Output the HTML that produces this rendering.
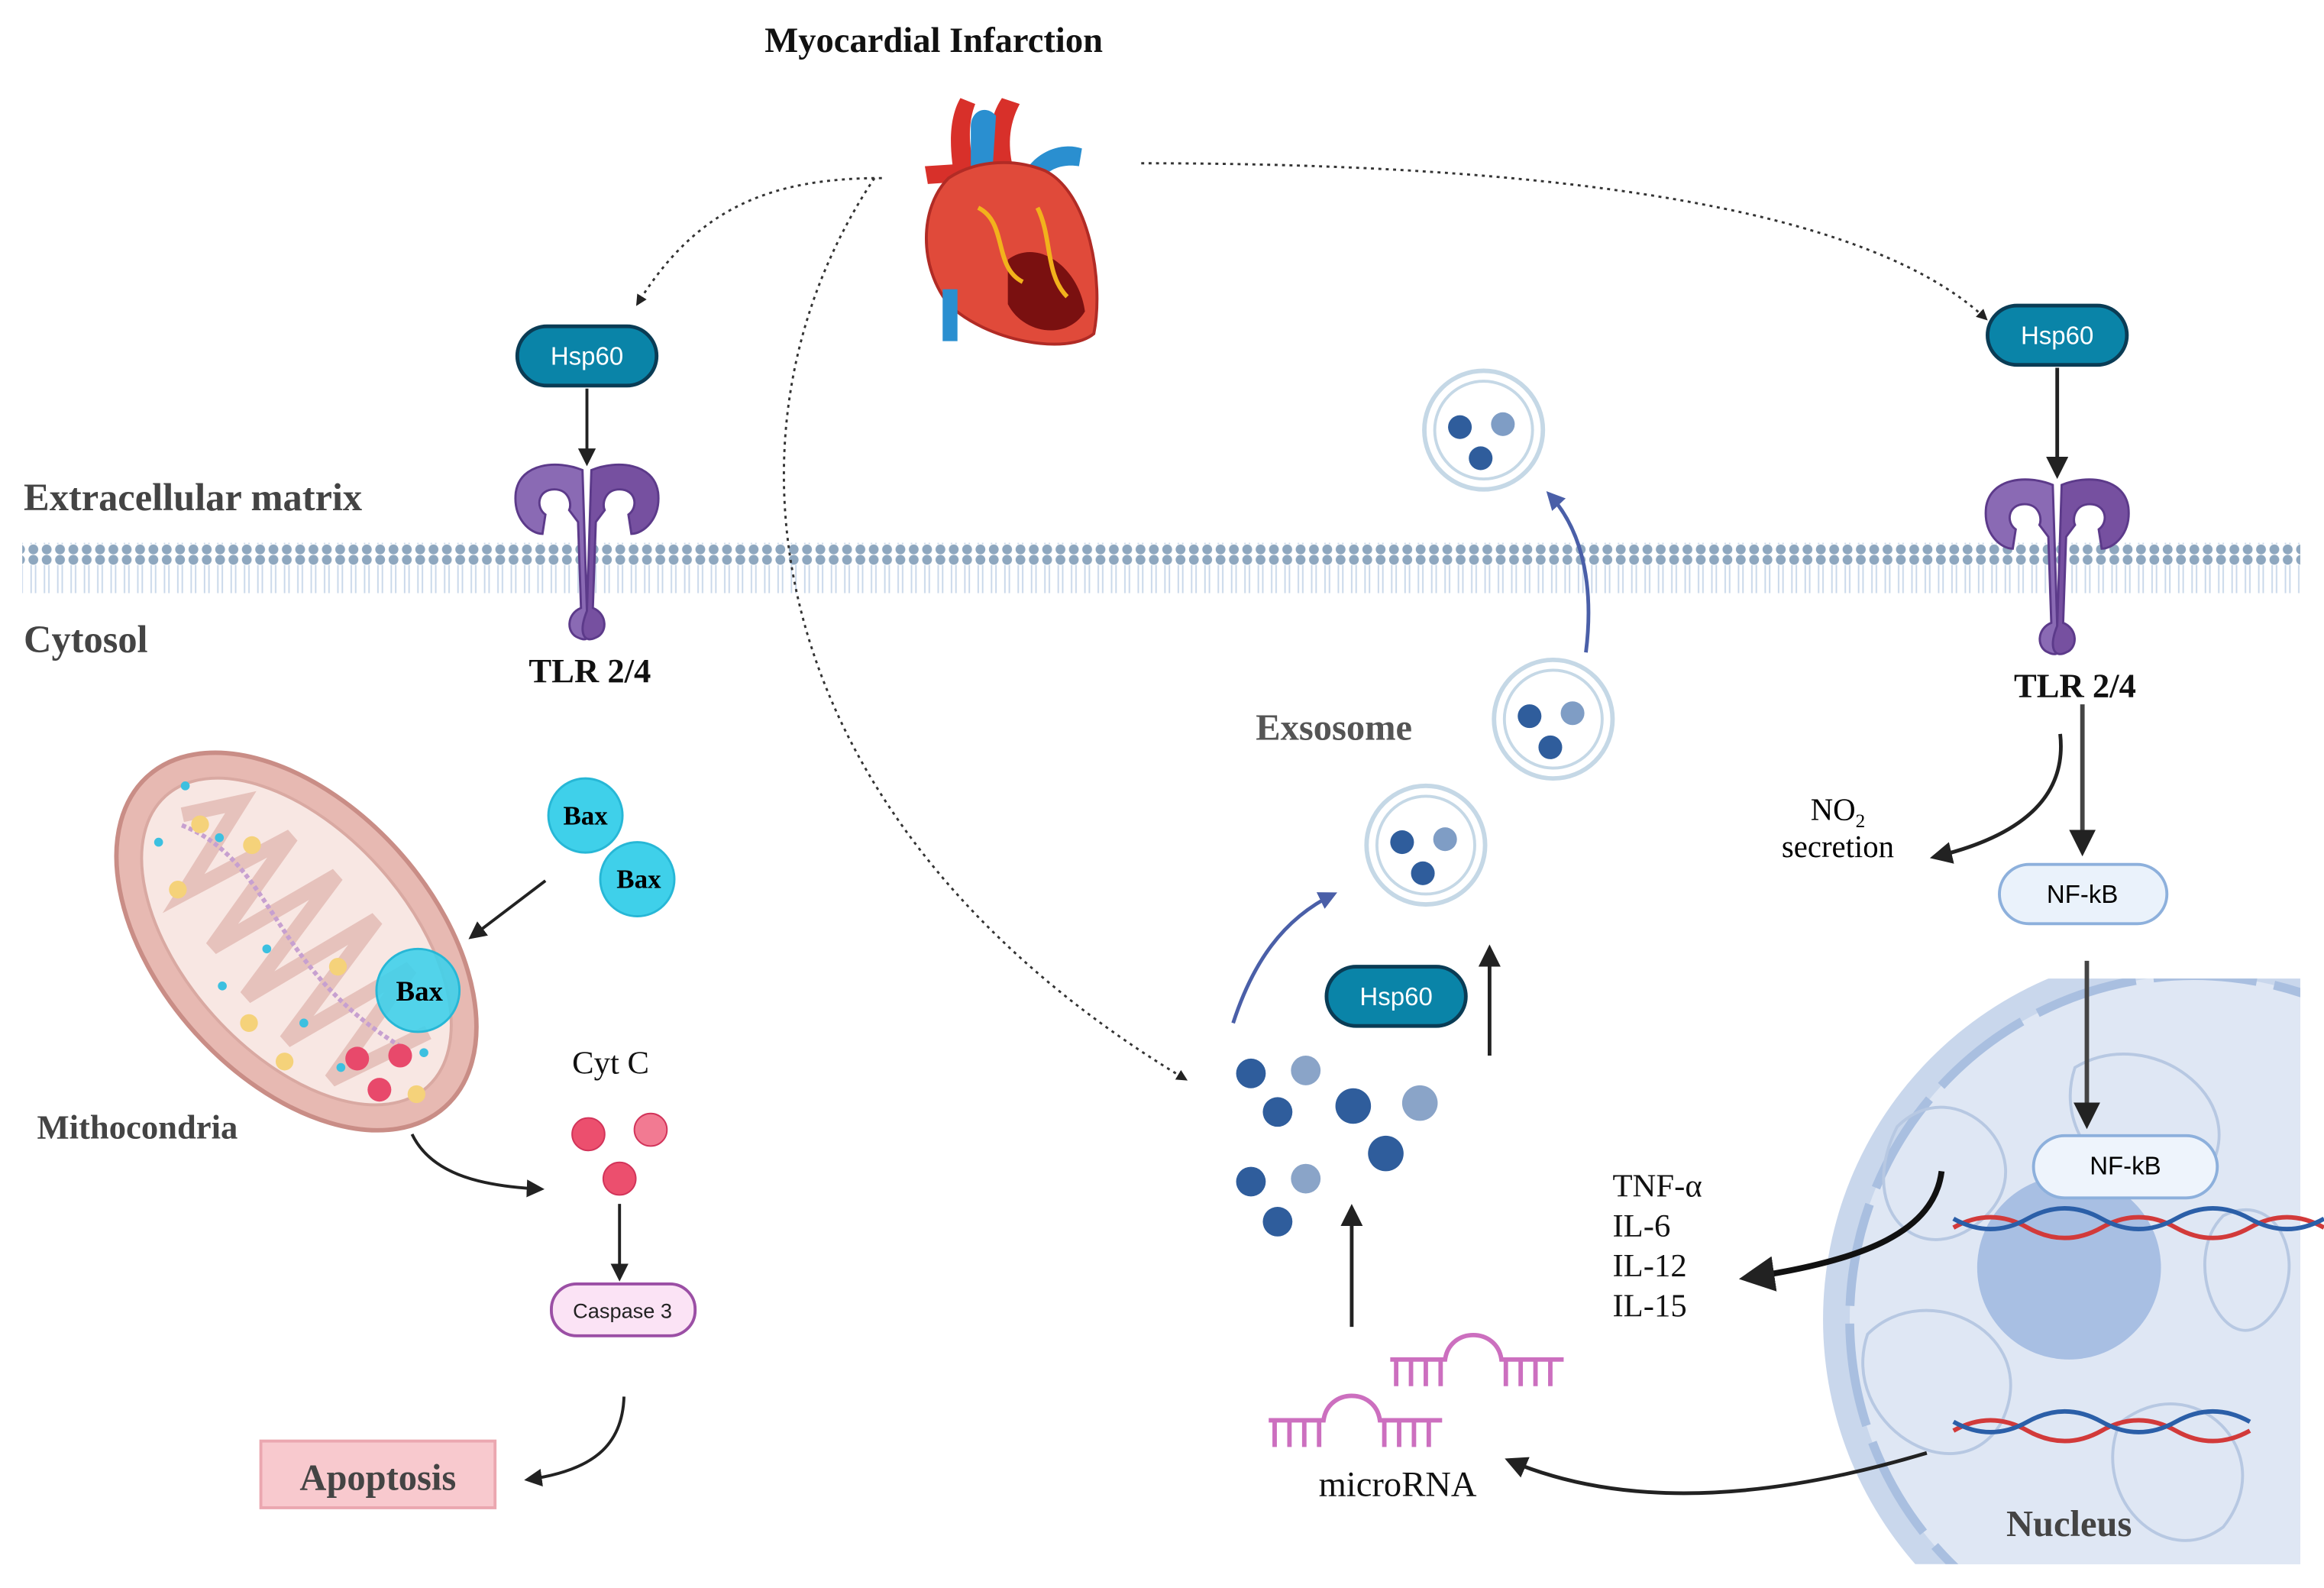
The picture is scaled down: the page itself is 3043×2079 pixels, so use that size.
<!DOCTYPE html>
<html><head><meta charset="utf-8"><style>
html,body{margin:0;padding:0;background:#fff;overflow:hidden;width:3043px;height:2079px;}
svg{display:block;}
text{font-family:"Liberation Serif",serif;}
.sans{font-family:"Liberation Sans",sans-serif;}
</style></head><body>
<svg width="3043" height="2079" viewBox="0 0 1568 1071" xmlns="http://www.w3.org/2000/svg">
<defs>
<marker id="ah" viewBox="0 0 10 10" refX="8" refY="5" markerWidth="6" markerHeight="6" orient="auto"><path d="M0,0L10,5L0,10z" fill="#222"/></marker>
<marker id="ahs" viewBox="0 0 10 10" refX="8" refY="5" markerWidth="5" markerHeight="5" orient="auto"><path d="M0,0L10,5L0,10z" fill="#222"/></marker>
<marker id="ahb" viewBox="0 0 10 10" refX="8" refY="5" markerWidth="5" markerHeight="5" orient="auto"><path d="M0,0L10,5L0,10z" fill="#4a5fa8"/></marker>
<pattern id="lip" width="9" height="34" patternUnits="userSpaceOnUse">
<circle cx="4.5" cy="3.5" r="3.3" fill="#8ea7bf"/><circle cx="4.5" cy="30.5" r="3.3" fill="#8ea7bf"/>
<line x1="3" y1="7" x2="3" y2="27" stroke="#c9d8ea" stroke-width="1"/><line x1="6" y1="7" x2="6" y2="27" stroke="#c9d8ea" stroke-width="1"/>
</pattern>
<g id="tlr">
<path d="M-3,-5 C-20,-12 -45,-10 -48,10 C-50,28 -38,38 -30,38 L-28,25 C-35,20 -33,8 -22,8 C-12,8 -10,18 -12,22 L-6,30 L-4,88 C-14,92 -14,105 -6,108 C2,112 6,105 0,90Z" fill="#8a6ab4" stroke="#5c3a8a" stroke-width="1.5"/>
<path d="M3,-5 C20,-12 45,-10 48,10 C50,28 38,38 30,38 L28,25 C35,20 33,8 22,8 C12,8 10,18 12,22 L6,30 L4,88 C14,92 14,105 6,108 C-2,112 -6,105 0,90Z" fill="#7650a0" stroke="#5c3a8a" stroke-width="1.5"/>
</g>
<g id="ves"><circle r="40" fill="#fff" stroke="#c5d8e6" stroke-width="3"/><circle r="33" fill="none" stroke="#c5d8e6" stroke-width="2"/></g>
</defs>

<rect x="15" y="366" width="1537" height="34" fill="url(#lip)"/>

<text x="630" y="35" font-size="24" font-weight="bold" text-anchor="middle" fill="#111">Myocardial Infarction</text>
<text x="16" y="344" font-size="26" font-weight="bold" fill="#444">Extracellular matrix</text>
<text x="16" y="440" font-size="26" font-weight="bold" fill="#444">Cytosol</text>

<!-- heart -->
<g>
<path d="M645,125 C640,100 640,80 648,66 L658,70 C652,85 654,105 660,120Z" fill="#d8302a"/>
<path d="M668,115 C665,95 668,78 676,66 L688,70 C680,85 680,100 684,115Z" fill="#d8302a"/>
<path d="M624,112 L655,110 L655,122 L626,124Z" fill="#d8302a"/>
<path d="M655,85 C655,75 665,70 672,78 L668,140 L655,140Z" fill="#2a8fd0"/>
<path d="M690,118 C700,100 718,96 730,100 L728,112 C715,110 705,115 700,125Z" fill="#2a8fd0"/>
<path d="M640,120 C620,140 620,180 640,205 C665,230 720,240 738,225 C745,190 735,130 705,115 C680,105 655,110 640,120Z" fill="#e04a3a" stroke="#b12b25" stroke-width="2"/>
<path d="M680,175 C700,160 728,180 732,210 C720,230 690,225 680,205Z" fill="#7a1010"/>
<path d="M660,140 C680,150 670,180 690,190 M700,140 C710,160 705,185 720,200" stroke="#f2b21c" stroke-width="3" fill="none"/>
<rect x="636" y="195" width="10" height="35" fill="#2a8fd0"/>
</g>

<path d="M595,120 C520,120 470,140 430,205" fill="none" stroke="#333" stroke-width="1.5" stroke-dasharray="2,3" marker-end="url(#ahs)"/>
<path d="M590,120 C470,300 520,560 800,728" fill="none" stroke="#333" stroke-width="1.5" stroke-dasharray="2,3" marker-end="url(#ahs)"/>
<path d="M770,110 C1000,110 1250,130 1340,215" fill="none" stroke="#333" stroke-width="1.5" stroke-dasharray="2,3" marker-end="url(#ahs)"/>

<g class="sans">
<rect x="349" y="220" width="94" height="40" rx="20" fill="#0a84a8" stroke="#0a3c55" stroke-width="2.5"/>
<text x="396" y="246" font-size="17" text-anchor="middle" fill="#fff" class="sans">Hsp60</text>
<rect x="1341" y="206" width="94" height="40" rx="20" fill="#0a84a8" stroke="#0a3c55" stroke-width="2.5"/>
<text x="1388" y="232" font-size="17" text-anchor="middle" fill="#fff" class="sans">Hsp60</text>
<rect x="895" y="652" width="94" height="40" rx="20" fill="#0a84a8" stroke="#0a3c55" stroke-width="2.5"/>
<text x="942" y="678" font-size="17" text-anchor="middle" fill="#fff" class="sans">Hsp60</text>
</g>
<line x1="396" y1="262" x2="396" y2="312" stroke="#222" stroke-width="2" marker-end="url(#ah)"/>
<line x1="1388" y1="248" x2="1388" y2="320" stroke="#222" stroke-width="2.5" marker-end="url(#ah)"/>

<use href="#tlr" x="396" y="322"/>
<use href="#tlr" x="1388" y="332"/>
<text x="398" y="460" font-size="23" font-weight="bold" text-anchor="middle" fill="#111">TLR 2/4</text>
<text x="1400" y="470" font-size="23" font-weight="bold" text-anchor="middle" fill="#111">TLR 2/4</text>

<!-- mitochondria -->
<g transform="rotate(48 200 635)">
<ellipse cx="200" cy="635" rx="150" ry="92" fill="#e7b9b2" stroke="#c98d86" stroke-width="3"/>
<ellipse cx="200" cy="635" rx="132" ry="75" fill="#f8e7e3" stroke="#d9a9a2" stroke-width="2"/>
<path d="M85,635 L105,600 L125,670 L145,590 L165,680 L185,585 L205,685 L225,585 L245,685 L265,590 L285,680 L305,610" fill="none" stroke="#e6c2bc" stroke-width="10"/>
<path d="M90,640 C150,610 200,660 300,630" fill="none" stroke="#c7a0d0" stroke-width="3" stroke-dasharray="3,2"/>
</g>
<g fill="#f5d27a"><circle cx="135" cy="556" r="6"/><circle cx="170" cy="570" r="6"/><circle cx="120" cy="600" r="6"/><circle cx="228" cy="652" r="6"/><circle cx="168" cy="690" r="6"/><circle cx="192" cy="716" r="6"/><circle cx="281" cy="738" r="6"/></g>
<g fill="#3cc0e0"><circle cx="125" cy="530" r="3"/><circle cx="107" cy="568" r="3"/><circle cx="148" cy="565" r="3"/><circle cx="150" cy="665" r="3"/><circle cx="205" cy="690" r="3"/><circle cx="180" cy="640" r="3"/><circle cx="230" cy="720" r="3"/><circle cx="286" cy="710" r="3"/></g>
<g fill="#e8496b"><circle cx="241" cy="714" r="8"/><circle cx="270" cy="712" r="8"/><circle cx="256" cy="735" r="8"/></g>
<text x="25" y="768" font-size="23" font-weight="bold" fill="#444">Mithocondria</text>

<g stroke="#27b7d6" stroke-width="1.5">
<circle cx="395" cy="550" r="25" fill="#3fd0ea"/>
<circle cx="430" cy="593" r="25" fill="#3fd0ea"/>
<circle cx="282" cy="668" r="28" fill="#3fd0ea" fill-opacity="0.9"/>
</g>
<text x="395" y="556" font-size="18" font-weight="bold" text-anchor="middle">Bax</text>
<text x="431" y="599" font-size="18" font-weight="bold" text-anchor="middle">Bax</text>
<text x="283" y="675" font-size="19" font-weight="bold" text-anchor="middle">Bax</text>
<line x1="368" y1="594" x2="318" y2="632" stroke="#222" stroke-width="2" marker-end="url(#ah)"/>

<text x="412" y="724" font-size="22" text-anchor="middle" fill="#111">Cyt C</text>
<g fill="#ec4f6e" stroke="#d2345a"><circle cx="397" cy="765" r="11"/><circle cx="439" cy="762" r="11" fill="#f27a92"/><circle cx="418" cy="795" r="11"/></g>
<path d="M278,765 C290,790 320,800 365,802" fill="none" stroke="#222" stroke-width="2" marker-end="url(#ah)"/>
<line x1="418" y1="812" x2="418" y2="862" stroke="#222" stroke-width="2" marker-end="url(#ah)"/>
<rect x="372" y="866" width="97" height="35" rx="17" fill="#fbe3f5" stroke="#9b4fa5" stroke-width="2"/>
<text x="420" y="889" font-size="14" text-anchor="middle" class="sans" fill="#222">Caspase 3</text>
<path d="M421,942 C420,975 400,992 356,998" fill="none" stroke="#222" stroke-width="2" marker-end="url(#ah)"/>
<rect x="176" y="972" width="158" height="45" fill="#f8c9ce" stroke="#eba7b0" stroke-width="2"/>
<text x="255" y="1005" font-size="25" font-weight="bold" text-anchor="middle" fill="#444">Apoptosis</text>

<text x="900" y="499" font-size="25" font-weight="bold" text-anchor="middle" fill="#555">Exsosome</text>
<g transform="translate(1001,290)"><use href="#ves"/><circle cx="-16" cy="-2" r="8" fill="#2f5d9c"/><circle cx="13" cy="-4" r="8" fill="#7f9dc5"/><circle cx="-2" cy="19" r="8" fill="#2f5d9c"/></g>
<g transform="translate(1048,485)"><use href="#ves"/><circle cx="-16" cy="-2" r="8" fill="#2f5d9c"/><circle cx="13" cy="-4" r="8" fill="#7f9dc5"/><circle cx="-2" cy="19" r="8" fill="#2f5d9c"/></g>
<g transform="translate(962,570)"><use href="#ves"/><circle cx="-16" cy="-2" r="8" fill="#2f5d9c"/><circle cx="13" cy="-4" r="8" fill="#7f9dc5"/><circle cx="-2" cy="19" r="8" fill="#2f5d9c"/></g>
<path d="M1070,440 C1075,400 1070,360 1045,333" fill="none" stroke="#4a5fa8" stroke-width="2.5" marker-end="url(#ahb)"/>
<path d="M832,690 C845,650 865,620 900,603" fill="none" stroke="#4a5fa8" stroke-width="2.5" marker-end="url(#ahb)"/>
<line x1="1005" y1="712" x2="1005" y2="640" stroke="#222" stroke-width="2.5" marker-end="url(#ah)"/>

<g><circle cx="844" cy="724" r="10" fill="#2f5d9c"/><circle cx="881" cy="722" r="10" fill="#8aa4c8"/><circle cx="862" cy="750" r="10" fill="#2f5d9c"/><circle cx="913" cy="746" r="12" fill="#2f5d9c"/><circle cx="958" cy="744" r="12" fill="#8aa4c8"/><circle cx="935" cy="778" r="12" fill="#2f5d9c"/><circle cx="844" cy="797" r="10" fill="#2f5d9c"/><circle cx="881" cy="795" r="10" fill="#8aa4c8"/><circle cx="862" cy="824" r="10" fill="#2f5d9c"/></g>
<line x1="912" y1="895" x2="912" y2="815" stroke="#222" stroke-width="2.5" marker-end="url(#ah)"/>

<g stroke="#cc6fbf" stroke-width="3" fill="none">
<path d="M938,917 L975,917 C978,895 1010,895 1013,917 L1055,917"/>
<path d="M942,917v18M952,917v18M962,917v18M972,917v18M1016,917v18M1026,917v18M1036,917v18M1046,917v18"/>
<path d="M856,958 L893,958 C896,936 928,936 931,958 L973,958"/>
<path d="M860,958v18M870,958v18M880,958v18M890,958v18M934,958v18M944,958v18M954,958v18M964,958v18"/>
</g>
<text x="943" y="1009" font-size="24" text-anchor="middle" fill="#111">microRNA</text>

<clipPath id="nc"><rect x="1200" y="660" width="352" height="395"/></clipPath>
<g clip-path="url(#nc)">
<circle cx="1480" cy="890" r="250" fill="#c9d7ec"/>
<circle cx="1480" cy="890" r="232" fill="#dfe7f4" stroke="#a9bfe0" stroke-width="6" stroke-dasharray="70,12"/>
<g fill="none" stroke="#b7c8e2" stroke-width="2">
<path d="M1280,760 C1320,720 1380,780 1340,820 C1300,860 1250,820 1280,760Z"/>
<path d="M1400,720 C1450,690 1520,740 1490,790 C1460,830 1380,780 1400,720Z"/>
<path d="M1260,900 C1300,860 1380,900 1350,960 C1320,1010 1240,960 1260,900Z"/>
<path d="M1430,960 C1480,920 1540,980 1500,1030 C1460,1060 1410,1010 1430,960Z"/>
<path d="M1500,820 C1540,800 1560,860 1530,890 C1500,920 1470,850 1500,820Z"/>
</g>
<circle cx="1396" cy="855" r="62" fill="#a8bfe3"/>
</g>
<g fill="none" stroke-width="3">
<path d="M1318,828 q25,-14 50,0 t50,0 t50,0 t50,0 t50,0" stroke="#d23a3a"/>
<path d="M1318,822 q25,14 50,0 t50,0 t50,0 t50,0 t50,0" stroke="#2b5fa8"/>
<path d="M1318,965 q25,-14 50,0 t50,0 t50,0 t50,0" stroke="#d23a3a"/>
<path d="M1318,959 q25,14 50,0 t50,0 t50,0 t50,0" stroke="#2b5fa8"/>
</g>
<text x="1396" y="1036" font-size="25" font-weight="bold" text-anchor="middle" fill="#444">Nucleus</text>

<line x1="1405" y1="475" x2="1405" y2="574" stroke="#444" stroke-width="3" marker-end="url(#ah)"/>
<path d="M1390,495 C1395,540 1360,565 1305,578" fill="none" stroke="#222" stroke-width="2.5" marker-end="url(#ah)"/>
<text x="1240" y="553" font-size="21" text-anchor="middle">NO<tspan font-size="13" dy="5">2</tspan></text>
<text x="1240" y="578" font-size="21" text-anchor="middle">secretion</text>
<rect x="1349" y="583" width="113" height="40" rx="20" fill="#eaf2fb" stroke="#8db0dc" stroke-width="2"/>
<text x="1405" y="609" font-size="17" text-anchor="middle" class="sans">NF-kB</text>
<line x1="1408" y1="648" x2="1408" y2="758" stroke="#444" stroke-width="3" marker-end="url(#ah)"/>
<rect x="1372" y="766" width="124" height="42" rx="21" fill="#eef4fc" stroke="#8db0dc" stroke-width="2"/>
<text x="1434" y="792" font-size="17" text-anchor="middle" class="sans">NF-kB</text>
<path d="M1310,790 C1305,830 1260,850 1178,862" fill="none" stroke="#111" stroke-width="4" marker-end="url(#ah)"/>
<g font-size="22" fill="#111"><text x="1088" y="807">TNF-α</text><text x="1088" y="834">IL-6</text><text x="1088" y="861">IL-12</text><text x="1088" y="888">IL-15</text></g>
<path d="M1300,980 C1200,1010 1100,1020 1018,985" fill="none" stroke="#222" stroke-width="2.5" marker-end="url(#ah)"/>
</svg>
</body></html>
